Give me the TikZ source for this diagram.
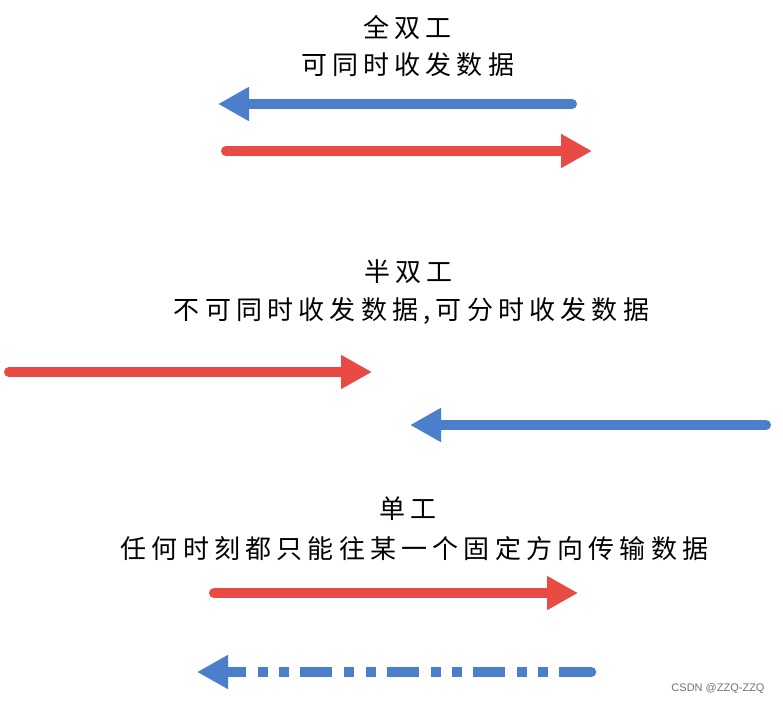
\documentclass[tikz,border=0pt]{standalone}
\usepackage{fontspec}
\newfontfamily\cjk[LetterSpace=20]{Noto Sans CJK SC}
\newfontfamily\wm{Liberation Sans}
\usetikzlibrary{arrows.meta}
\definecolor{arrowblue}{RGB}{75,126,203}
\definecolor{arrowred}{RGB}{233,74,68}
\tikzset{
  label text/.style={anchor=base, inner sep=0pt, font=\fontsize{26}{30}\cjk},
  fat arrow/.style={line width=10pt, line cap=round,
    -{Triangle[length=31pt,width=32pt]}},
  blue arrow/.style={fat arrow, draw=arrowblue},
  red arrow/.style={fat arrow, draw=arrowred},
}
\begin{document}
\begin{tikzpicture}[x=1pt,y=-1pt]
\useasboundingbox (0,0) rectangle (783,705);
% full duplex
\node[label text] (t1) at (407.6,37.4) {全双工};
\node[label text] (t1b) at (407.6,74.4) {可同时收发数据};
\coordinate (b1s) at (572,104);
\coordinate (b1e) at (218,104);
\draw[blue arrow] (b1s) -- (b1e);
\coordinate (r1s) at (226,151);
\coordinate (r1e) at (592,151);
\draw[red arrow] (r1s) -- (r1e);
% half duplex
\node[label text] (t2) at (408.6,281.4) {半双工};
\node[label text] (t2b) at (411.6,319.4) {不可同时收发数据,可分时收发数据};
\coordinate (r2s) at (9,372);
\coordinate (r2e) at (372,372);
\draw[red arrow] (r2s) -- (r2e);
\coordinate (b2s) at (766,425);
\coordinate (b2e) at (410,425);
\draw[blue arrow] (b2s) -- (b2e);
% simplex
\node[label text] (t3) at (407.6,518) {单工};
\node[label text] (t3b) at (414.6,558) {任何时刻都只能往某一个固定方向传输数据};
\coordinate (r3s) at (214,593);
\coordinate (r3e) at (578,593);
\draw[red arrow] (r3s) -- (r3e);
\coordinate (b3s) at (591.3,672);
\coordinate (b3c) at (565,672);
\coordinate (b3e) at (197,672);
\draw[draw=arrowblue, line width=10pt, line cap=butt,
  dash pattern=on 32pt off 11pt on 10pt off 11.5pt on 10pt off 11.8pt,
  -{Triangle[length=31pt,width=32pt]}] (b3s) -- (b3e);
\draw[draw=arrowblue, line width=10pt, line cap=round] (b3s) -- (b3c);
% watermark
\node[anchor=center, inner sep=0pt, text=black!55, font=\fontsize{11}{13}\wm] (wm) at (718,689) {CSDN @ZZQ-ZZQ};
\end{tikzpicture}
\end{document}
